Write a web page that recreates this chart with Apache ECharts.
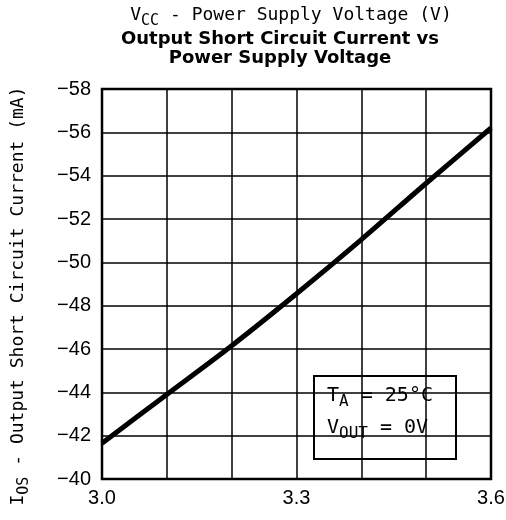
<!DOCTYPE html>
<html>
<head>
<meta charset="utf-8">
<script src="https://cdn.jsdelivr.net/npm/echarts@6/dist/echarts.min.js"></script>
<style>
  html, body { margin: 0; padding: 0; background: #fff; }
  #chart { width: 506px; height: 520px; }
</style>
</head>
<body>
<div id="chart"></div>
<script>
  // supply voltage (V) and short circuit current (mA)
  var vcc = [3.0, 3.1, 3.2, 3.3, 3.4, 3.5, 3.6];
  var ios = [-41.65, -43.9, -46.15, -48.55, -51.05, -53.65, -56.2];
  var xLabels = ['3.0', '3.3', '3.6'];

  var MONO = 'DejaVu Sans Mono';
  var SANS = 'Liberation Sans';
  var chart = echarts.init(document.getElementById('chart'));

  function richText(size, subSize, drop) {
    return {
      n: { fontFamily: MONO, fontSize: size, color: '#000', verticalAlign: 'top', lineHeight: size + 4 },
      s: { fontFamily: MONO, fontSize: subSize, color: '#000', verticalAlign: 'top', lineHeight: size + 4, padding: [drop, 0, 0, 0] }
    };
  }

  chart.setOption({
    animation: false,
    grid: { left: 102, right: 15, top: 89, bottom: 41, outerBoundsMode: 'none' },
    xAxis: {
      type: 'value',
      min: 3.0,
      max: 3.6,
      interval: 0.1,
      axisLine: { show: false },
      axisTick: { show: false },
      splitLine: { lineStyle: { color: '#000', width: 1.5 } },
      axisLabel: {
        fontFamily: SANS, fontSize: 20, color: '#000', margin: 9,
        formatter: function (v) {
          var s = v.toFixed(1);
          return xLabels.indexOf(s) >= 0 ? s : '';
        }
      }
    },
    yAxis: {
      type: 'value',
      inverse: true,
      min: -58,
      max: -40,
      interval: 2,
      axisLine: { show: false },
      axisTick: { show: false },
      splitLine: { lineStyle: { color: '#000', width: 1.5 } },
      axisLabel: {
        fontFamily: SANS, fontSize: 20, color: '#000', margin: 11,
        formatter: function (v) { return String(v).replace('-', '\u2212'); }
      }
    },
    series: [{
      type: 'line',
      data: vcc.map(function (v, i) { return [v, ios[i]]; }),
      smooth: 0.3,
      symbol: 'none',
      lineStyle: { color: '#000', width: 5 },
      z: 3
    }],
    graphic: [
      {
        type: 'rect',
        shape: { x: 102, y: 89, width: 389, height: 390 },
        style: { fill: 'none', stroke: '#000', lineWidth: 2.5 },
        z: 10
      },
      {
        type: 'text',
        x: 291, y: 6,
        style: {
          text: '{n|V}{s|CC}{n| - Power Supply Voltage (V)}',
          align: 'center',
          rich: richText(18, 15, 8)
        }
      },
      {
        type: 'text',
        x: 280, y: 30,
        style: {
          text: 'Output Short Circuit Current vs\nPower Supply Voltage',
          align: 'center',
          fontFamily: 'DejaVu Sans', fontWeight: 'bold', fontSize: 18, lineHeight: 19, fill: '#000'
        }
      },
      {
        type: 'text',
        x: 9, y: 296,
        rotation: Math.PI / 2,
        style: {
          text: '{n|I}{s|OS}{n| - Output Short Circuit Current (mA)}',
          align: 'center',
          rich: richText(18, 15, 8)
        }
      },
      {
        type: 'group',
        z: 20,
        children: [
          {
            type: 'rect',
            shape: { x: 314, y: 376, width: 142, height: 83 },
            style: { fill: '#fff', stroke: '#000', lineWidth: 2 }
          },
          {
            type: 'text',
            x: 327, y: 386,
            style: { text: '{n|T}{s|A}{n| = 25\u00b0C}', rich: richText(20, 16, 8) }
          },
          {
            type: 'text',
            x: 327, y: 418,
            style: { text: '{n|V}{s|OUT}{n| = 0V}', rich: richText(20, 16, 8) }
          }
        ]
      }
    ]
  });

  window.onresize = function () { chart.resize(); };
</script>
</body>
</html>
